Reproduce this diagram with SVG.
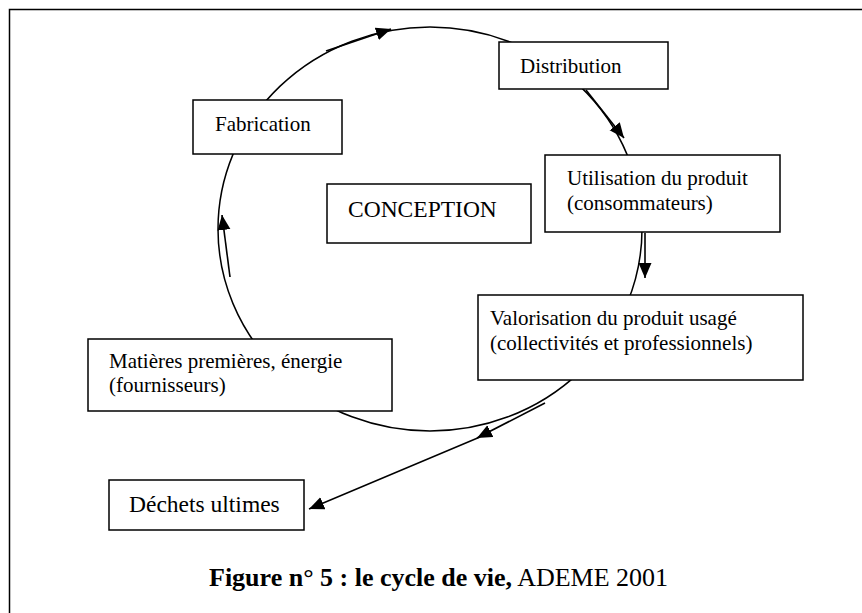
<svg xmlns="http://www.w3.org/2000/svg" width="862" height="613" viewBox="0 0 862 613">
<style>
.box{fill:#fff;stroke:#000;stroke-width:1.5}
.t{font-family:"Liberation Serif","Times New Roman",serif;font-size:21px;fill:#000}
.ln{fill:none;stroke:#000;stroke-width:1.5}
.ar{fill:none;stroke:#000;stroke-width:1.6;marker-end:url(#ah)}
</style>
<defs>
<marker id="ah" markerUnits="userSpaceOnUse" markerWidth="16" markerHeight="14" refX="15" refY="6.5" orient="auto" viewBox="0 0 16 13">
<path d="M0,0 L15,6.5 L0,13 Z" fill="#000"/>
</marker>
</defs>
<rect width="862" height="613" fill="#fff"/>
<path class="ln" d="M9.5,613 V9.5 H862"/>
<g id="connectors">
<ellipse class="ln" cx="430" cy="229" rx="212" ry="202"/>
<line class="ar" x1="326" y1="51" x2="391" y2="29"/>
<line class="ar" x1="586" y1="90" x2="624" y2="138"/>
<line class="ar" x1="645" y1="233" x2="645" y2="278"/>
<line class="ar" x1="230" y1="277" x2="222" y2="215"/>
<line class="ar" x1="545" y1="403" x2="477" y2="438"/>
<line class="ar" x1="480" y1="437" x2="309" y2="509"/>
</g>
<g id="fabrication">
<rect class="box" x="193" y="100" width="149" height="54"/>
<text class="t" x="215" y="131">Fabrication</text>
</g>
<g id="distribution">
<rect class="box" x="499" y="42" width="169" height="47"/>
<text class="t" x="520" y="73">Distribution</text>
</g>
<g id="utilisation">
<rect class="box" x="545" y="155" width="235" height="77"/>
<text class="t" x="567" y="185">Utilisation du produit</text>
<text class="t" x="567" y="210">(consommateurs)</text>
</g>
<g id="conception">
<rect class="box" x="327" y="184" width="204" height="59"/>
<text class="t" x="348" y="217" style="font-size:23.5px">CONCEPTION</text>
</g>
<g id="valorisation">
<rect class="box" x="478" y="295" width="325" height="85"/>
<text class="t" x="490" y="325">Valorisation du produit usagé</text>
<text class="t" x="490" y="350">(collectivités et professionnels)</text>
</g>
<g id="matieres">
<rect class="box" x="88" y="339" width="304" height="72"/>
<text class="t" x="109" y="368">Matières premières, énergie</text>
<text class="t" x="109" y="392">(fournisseurs)</text>
</g>
<g id="dechets">
<rect class="box" x="109" y="480" width="195" height="50"/>
<text class="t" x="129" y="512" style="font-size:23.5px">Déchets ultimes</text>
</g>
<text class="t" x="209" y="586" style="font-size:26px"><tspan font-weight="bold">Figure n° 5 : le cycle de vie,</tspan> ADEME 2001</text>
</svg>
